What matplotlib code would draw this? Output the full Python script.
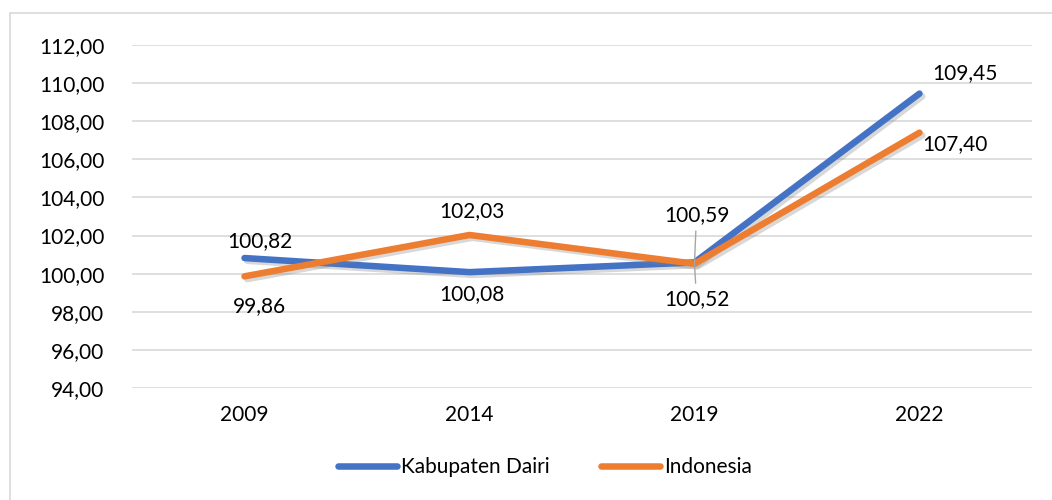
import matplotlib
matplotlib.use("Agg")
import matplotlib.pyplot as plt
import matplotlib.patheffects as pe
from matplotlib.patches import Rectangle

plt.rcParams['font.family'] = ['Lato', 'DejaVu Sans']

# Data.
years = ["2009", "2014", "2019", "2022"]
dairi = [100.82, 100.08, 100.59, 109.45]
indonesia = [99.86, 102.03, 100.52, 107.40]
y_ticks = [94, 96, 98, 100, 102, 104, 106, 108, 110, 112]

# Label offsets in pixels (dx, dy) for each point.
dairi_off = [(15, 17), (2, -22), (2, 47), (45, 20)]
indo_off = [(15, -30), (2, 24), (2, -35), (35, -11)]

blue = "#4472C4"
orange = "#ED7D31"

fig = plt.figure(figsize=(10.52, 5.0), dpi=100)
ax = fig.add_axes([132 / 1052, 112 / 500, 900 / 1052, 343 / 500])

# Chart border.
fig.patches.append(Rectangle((10 / 1052, -0.1), 1.2, 1.1 - 13 / 500,
                             transform=fig.transFigure, fill=False,
                             edgecolor="#D9D9D9", lw=1.2))

x = list(range(len(years)))
shadow = [pe.SimpleLineShadow(offset=(2, -2), shadow_color="gray", alpha=0.3),
          pe.Normal()]
ax.plot(x, dairi, color=blue, lw=4.7, solid_capstyle="round",
        solid_joinstyle="round", path_effects=shadow, label="Kabupaten Dairi", zorder=3)
ax.plot(x, indonesia, color=orange, lw=4.7, solid_capstyle="round",
        solid_joinstyle="round", path_effects=shadow, label="Indonesia", zorder=4)

def fmt(v):
    return f"{v:.2f}".replace(".", ",")

for i in x:
    for vals, offs in ((dairi, dairi_off), (indonesia, indo_off)):
        kw = {}
        if i == 2:
            kw["arrowprops"] = dict(arrowstyle="-", color="#A6A6A6", lw=1,
                                    shrinkA=2, shrinkB=0)
        ax.annotate(fmt(vals[i]), (i, vals[i]), xytext=offs[i],
                    textcoords="offset pixels", ha="center", va="center",
                    fontsize=15, color="#000000", zorder=5, **kw)

ax.set_xlim(-0.5, 3.5)
ax.set_ylim(94, 112)
ax.set_yticks(y_ticks)
ax.set_yticklabels([fmt(v) for v in y_ticks])
ax.set_xticks(x)
ax.set_xticklabels(years)
ax.tick_params(length=0, labelsize=15, colors="#000000")
ax.tick_params(axis="y", pad=20)
ax.tick_params(axis="x", pad=12)
ax.grid(axis="y", color="#D9D9D9", lw=1.2)
ax.set_axisbelow(True)
for s in ax.spines.values():
    s.set_visible(False)

leg = fig.legend(loc="center", bbox_to_anchor=(545 / 1052, 33 / 500), ncol=2,
                 frameon=False, fontsize=15, handlelength=2.8, handletextpad=0.2,
                 columnspacing=2.5)
for h in leg.get_lines():
    h.set_solid_capstyle("round")
    h.set_path_effects([])

fig.savefig("out.png", dpi=100)
